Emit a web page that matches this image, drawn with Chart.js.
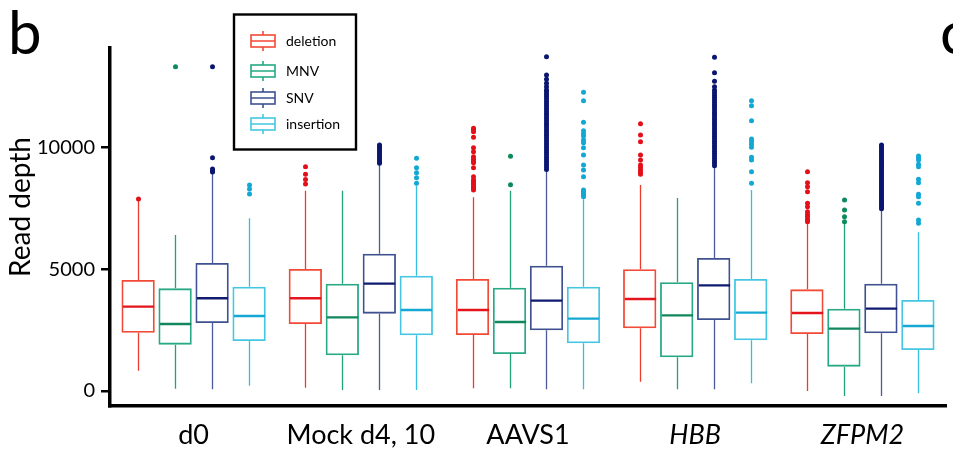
<!DOCTYPE html>
<html>
<head>
<meta charset="utf-8">
<script src="https://cdn.jsdelivr.net/npm/chart.js@4"></script>
<style>
  html, body { margin: 0; padding: 0; background: #fff; }
  #wrap { width: 953px; height: 462px; position: relative; }
</style>
</head>
<body>
<div id="wrap"><canvas id="boxChart"></canvas></div>
<script>
// categories and tick labels
const groups = ['d0', 'Mock d4, 10', 'AAVS1', 'HBB', 'ZFPM2'];
const italicGroups = ['HBB', 'ZFPM2'];
const yTicks = [0, 5000, 10000];

// [lower whisker, q1, median, q3, upper whisker] per group
const deletionBox = [
  [835, 2395, 3463, 4558, 7800],
  [137, 2752, 3806, 5010, 8227],
  [110, 2300, 3326, 4600, 7954],
  [383, 2574, 3778, 4997, 8460],
  [0, 2341, 3203, 4175, 6913]
];
const mnvBox = [
  [95, 1903, 2752, 4216, 6407],
  [40, 1465, 3025, 4408, 8227],
  [110, 1520, 2834, 4243, 8227],
  [70, 1383, 3107, 4463, 7926],
  [-205, 999, 2560, 3381, 6858]
];
const snvBox = [
  [70, 2793, 3806, 5257, 8940],
  [40, 3176, 4408, 5640, 9281],
  [70, 2491, 3710, 5146, 9076],
  [70, 2916, 4339, 5462, 9213],
  [-205, 2368, 3381, 4408, 7433]
];
const insertionBox = [
  [218, 2053, 3080, 4285, 7091],
  [40, 2286, 3326, 4736, 8419],
  [70, 1957, 2971, 4285, 7872],
  [315, 2081, 3217, 4600, 8255],
  [-96, 1684, 2669, 3737, 6517]
];

// outliers per group
const deletionOut = [
  [7880],
  [8500, 8690, 8900, 9210],
  [8255, 8330, 8390, 8460, 8530, 8600, 8665, 8800, 9170, 9376, 9450, 9515, 9622, 9828, 9992, 10419, 10650, 10720, 10788],
  [8898, 8980, 9076, 9180, 9281, 9487, 9692, 10240, 10513, 10979],
  [6954, 7050, 7159, 7250, 7364, 7570, 7707, 8186, 8391, 8556, 9007]
];
const mnvOut = [
  [13320],
  [],
  [8473, 9638],
  [],
  [6954, 7159, 7433, 7844]
];
const snvOut = [
  [8990, 9050, 9120, 9582, 13320],
  [9350, 9420, 9500, 9580, 9660, 9740, 9820, 9900, 9980, 10050, 10103],
  [9100, 9200, 9300, 9400, 9500, 9600, 9700, 9800, 9900, 10000, 10100, 10200, 10300, 10400, 10500,
   10600, 10700, 10800, 10900, 11000, 11100, 11200, 11300, 11400, 11500, 11600, 11700, 11800, 11900,
   12000, 12100, 12200, 12300, 12361, 12498, 12634, 12800, 12977, 13730],
  [9250, 9350, 9450, 9550, 9650, 9750, 9850, 9950, 10050, 10150, 10250, 10350, 10450, 10550, 10650,
   10750, 10850, 10950, 11050, 11150, 11250, 11350, 11450, 11550, 11650, 11750, 11850, 11950, 12050,
   12150, 12250, 12350, 12498, 12718, 13073, 13703],
  [7480, 7560, 7640, 7720, 7800, 7880, 7960, 8040, 8120, 8200, 8280, 8360, 8440, 8520, 8600, 8680,
   8760, 8840, 8920, 9000, 9080, 9160, 9240, 9320, 9400, 9480, 9560, 9640, 9720, 9800, 9880, 9960, 10040, 10103]
];
const insertionOut = [
  [8090, 8296, 8460],
  [8529, 8761, 8966, 9171, 9555],
  [7980, 8050, 8118, 8190, 8255, 8801, 9076, 9281, 9692, 9992, 10198, 10308, 10472, 10560, 10691, 11034, 11923, 12265],
  [8529, 9007, 9487, 9596, 10007, 10130, 10240, 10349, 11102, 11718, 11923],
  [6886, 7023, 7707, 7980, 8077, 8556, 8694, 9213, 9310, 9487, 9570, 9651]
];

const series = [
  { name: 'deletion', box: deletionBox, out: deletionOut, line: '#f24a36', whisker: '#ef3b2c', median: '#e3141b', dot: '#e3101a' },
  { name: 'MNV', box: mnvBox, out: mnvOut, line: '#26a984', whisker: '#22a07a', median: '#12875d', dot: '#0b8a5a' },
  { name: 'SNV', box: snvBox, out: snvOut, line: '#3f5190', whisker: '#4a5b98', median: '#0f1b6e', dot: '#0a1670' },
  { name: 'insertion', box: insertionBox, out: insertionOut, line: '#45c6e2', whisker: '#35bfdf', median: '#16a8d3', dot: '#12a8d4' }
];

const FONT = 'Lato, "Open Sans", sans-serif';

// whiskers, medians and outliers on top of the floating bars
const boxPlotPlugin = {
  id: 'boxPlot',
  afterDatasetsDraw(chart) {
    const ctx = chart.ctx;
    const y = chart.scales.y;
    ctx.save();
    series.forEach((s, i) => {
      const meta = chart.getDatasetMeta(i);
      meta.data.forEach((bar, j) => {
        const [lo, q1, med, q3, hi] = s.box[j];
        const x = Math.round(bar.x) + 0.5;
        const w = bar.width;
        ctx.strokeStyle = s.whisker;
        ctx.lineWidth = 1.3;
        ctx.beginPath();
        ctx.moveTo(x, y.getPixelForValue(q3));
        ctx.lineTo(x, y.getPixelForValue(hi));
        ctx.moveTo(x, y.getPixelForValue(q1));
        ctx.lineTo(x, y.getPixelForValue(lo));
        ctx.stroke();
        ctx.strokeStyle = s.median;
        ctx.lineWidth = 2.4;
        ctx.beginPath();
        ctx.moveTo(x - w / 2 + 1, y.getPixelForValue(med));
        ctx.lineTo(x + w / 2 - 1, y.getPixelForValue(med));
        ctx.stroke();
        ctx.fillStyle = s.dot;
        s.out[j].forEach(v => {
          ctx.beginPath();
          ctx.arc(x, y.getPixelForValue(v), 2.5, 0, Math.PI * 2);
          ctx.fill();
        });
      });
    });
    ctx.restore();
  }
};

// panel letters, y title and the boxed legend
const decorPlugin = {
  id: 'decor',
  afterDraw(chart) {
    const ctx = chart.ctx;
    ctx.save();
    ctx.fillStyle = '#000';
    ctx.textBaseline = 'alphabetic';
    ctx.font = '60px ' + FONT;
    ctx.fillText('b', 8, 54);
    ctx.fillText('c', 940, 54);

    ctx.save();
    ctx.translate(30, 207);
    ctx.rotate(-Math.PI / 2);
    ctx.textAlign = 'center';
    ctx.font = '28px ' + FONT;
    ctx.fillText('Read depth', 0, 0);
    ctx.restore();

    ctx.strokeStyle = '#000';
    ctx.lineWidth = 2.4;
    ctx.strokeRect(234, 14.5, 122, 135);
    const rows = [41, 71, 98, 124];
    series.forEach((s, i) => {
      const cy = rows[i];
      ctx.strokeStyle = s.line;
      ctx.lineWidth = 1.6;
      ctx.strokeRect(251, cy - 6, 24, 12);
      ctx.beginPath();
      ctx.moveTo(251, cy);
      ctx.lineTo(275, cy);
      ctx.moveTo(263, cy - 6);
      ctx.lineTo(263, cy - 10);
      ctx.moveTo(263, cy + 6);
      ctx.lineTo(263, cy + 10);
      ctx.stroke();
      ctx.fillStyle = '#000';
      ctx.font = '14px ' + FONT;
      ctx.textBaseline = 'middle';
      ctx.fillText(s.name, 286, cy);
    });
    ctx.restore();
  }
};

new Chart(document.getElementById('boxChart'), {
  type: 'bar',
  data: {
    labels: groups,
    datasets: series.map(s => ({
      label: s.name,
      data: s.box.map(b => [b[1], b[3]]),
      backgroundColor: 'rgba(255,255,255,0)',
      borderColor: s.line,
      borderWidth: 1.8,
      borderSkipped: false,
      categoryPercentage: 0.885,
      barPercentage: 0.9
    }))
  },
  options: {
    responsive: true,
    maintainAspectRatio: false,
    animation: false,
    layout: { padding: { top: 48, right: 7, bottom: 0, left: 0 } },
    plugins: {
      legend: { display: false },
      tooltip: { enabled: false }
    },
    scales: {
      x: {
        grid: { display: false },
        border: { display: true, width: 3.5, color: '#000' },
        ticks: {
          color: '#000',
          padding: 5,
          font: ctx => ({
            family: FONT,
            size: 27,
            style: italicGroups.includes(groups[ctx.index]) ? 'italic' : 'normal'
          })
        },
        afterFit: s => { s.height = 56; }
      },
      y: {
        min: -616,
        max: 14086,
        afterBuildTicks: s => { s.ticks = yTicks.map(v => ({ value: v })); },
        grid: { display: true, drawOnChartArea: false, drawTicks: true, tickLength: 9, lineWidth: 2.5, color: '#000' },
        border: { display: true, width: 3.5, color: '#000' },
        ticks: { color: '#000', padding: 6, font: { family: FONT, size: 20 }, callback: v => String(v) },
        afterFit: s => { s.width = 110; }
      }
    }
  },
  plugins: [boxPlotPlugin, decorPlugin]
});
</script>
</body>
</html>
